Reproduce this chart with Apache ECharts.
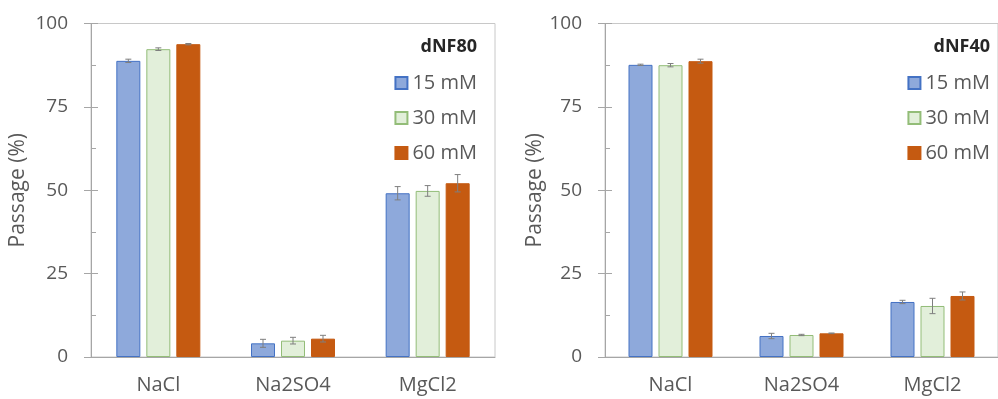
<!DOCTYPE html>
<html><head><meta charset="utf-8">
<script src="https://cdn.jsdelivr.net/npm/echarts@6/dist/echarts.min.js"></script>
<style>html,body{margin:0;padding:0;background:#fff}#c{width:998px;height:399px}</style>
</head><body><div id="c"></div>
<script>
const categories = ['NaCl', 'Na2SO4', 'MgCl2'];
const seriesNames = ['15 mM', '30 mM', '60 mM'];
const yTicks = [0, 25, 50, 75, 100];
// dNF80 (left)
const dNF80_15 = [88.8, 4.1, 49.1];
const dNF80_30 = [92.3, 4.9, 49.8];
const dNF80_60 = [93.8, 5.5, 52.1];
const dNF80_err15 = [0.5, 1.2, 2.0];
const dNF80_err30 = [0.4, 1.0, 1.6];
const dNF80_err60 = [0.2, 1.0, 2.6];
// dNF40 (right)
const dNF40_15 = [87.6, 6.3, 16.5];
const dNF40_30 = [87.5, 6.6, 15.3];
const dNF40_60 = [88.7, 7.1, 18.3];
const dNF40_err15 = [0.2, 0.8, 0.5];
const dNF40_err30 = [0.5, 0.2, 2.3];
const dNF40_err60 = [0.6, 0.1, 1.2];

const FONT = 'Open Sans';
const TXT = '#595959';
const fills = ['#8EA9DB', '#E2EFDA', '#C55A11'];
const borders = ['#4472C4', '#93BD78', '#C55A11'];
const BARW = 24, BARGAP = 0.25;

const chart = echarts.init(document.getElementById('c'));

function yAxes(gridIndex, nameGap) {
  return [{
    type: 'value', gridIndex, position: 'left', min: yTicks[0], max: yTicks[yTicks.length - 1], interval: yTicks[1] - yTicks[0],
    name: 'Passage (%)', nameLocation: 'middle', nameGap,
    nameTextStyle: { fontFamily: FONT, fontSize: 21, color: TXT },
    axisLine: { show: true, lineStyle: { color: '#A6A6A6' } },
    axisTick: { show: true, inside: false, length: 7, lineStyle: { color: '#A6A6A6' } },
    axisLabel: { margin: 23, fontFamily: FONT, fontSize: 19, color: TXT },
    splitLine: { show: false }
  }, {
    type: 'value', gridIndex, position: 'left', offset: 0, min: yTicks[0], max: yTicks[yTicks.length - 1], interval: yTicks[1] - yTicks[0],
    axisLine: { show: true, lineStyle: { color: '#A6A6A6' } },
    axisTick: { show: true, inside: true, length: 7, lineStyle: { color: '#A6A6A6' } },
    minorTick: { show: true, splitNumber: 2, length: 5, lineStyle: { color: '#A6A6A6' } },
    axisLabel: { show: false }, splitLine: { show: false }
  }];
}
function xAxis(gridIndex) {
  return {
    type: 'category', gridIndex, data: categories,
    axisLine: { show: true, lineStyle: { color: '#A6A6A6' } },
    axisTick: { show: false },
    axisLabel: { margin: 18, fontFamily: FONT, fontSize: 20, color: TXT }
  };
}
function barSeries(gi, name, idx, data) {
  return {
    type: 'bar', name, xAxisIndex: gi, yAxisIndex: gi * 2, data,
    barWidth: BARW, barGap: (BARGAP * 100) + '%',
    itemStyle: { color: fills[idx], borderColor: borders[idx], borderWidth: 1 }
  };
}
function errSeries(gi, idx, vals, errs) {
  return {
    type: 'custom', xAxisIndex: gi, yAxisIndex: gi * 2, z: 5, silent: true,
    data: vals.map((v, i) => [i, v, errs[i]]),
    renderItem: function (params, api) {
      const c = api.value(0), v = api.value(1), e = api.value(2);
      const off = (idx - 1) * BARW * (1 + BARGAP);
      const top = api.coord([c, v + e]);
      const bot = api.coord([c, v - e]);
      const x = top[0] + off;
      const cap = 3;
      const st = { stroke: '#7F7F7F', lineWidth: 1 };
      return { type: 'group', children: [
        { type: 'line', shape: { x1: x, y1: top[1], x2: x, y2: bot[1] }, style: st },
        { type: 'line', shape: { x1: x - cap, y1: top[1], x2: x + cap, y2: top[1] }, style: st },
        { type: 'line', shape: { x1: x - cap, y1: bot[1], x2: x + cap, y2: bot[1] }, style: st }
      ] };
    }
  };
}
function legend(right) {
  return {
    data: seriesNames, orient: 'vertical', right, top: 68, itemWidth: 12, itemHeight: 12,
    itemGap: 15, icon: 'rect', selectedMode: false,
    textStyle: { fontFamily: FONT, fontSize: 20, color: TXT, lineHeight: 20 }
  };
}

const left = [dNF80_15, dNF80_30, dNF80_60], leftErr = [dNF80_err15, dNF80_err30, dNF80_err60];
const right = [dNF40_15, dNF40_30, dNF40_60], rightErr = [dNF40_err15, dNF40_err30, dNF40_err60];
const series = [];
[left, right].forEach((set, gi) => set.forEach((d, i) => series.push(barSeries(gi, seriesNames[i], i, d))));
[[left, leftErr], [right, rightErr]].forEach(([set, errs], gi) => set.forEach((d, i) => series.push(errSeries(gi, i, d, errs[i]))));

chart.setOption({
  animation: false,
  title: [
    { text: 'dNF80', right: 516, top: 33, textStyle: { fontFamily: FONT, fontSize: 18, fontWeight: 'bold', color: '#262626' } },
    { text: 'dNF40', right: 3, top: 33, textStyle: { fontFamily: FONT, fontSize: 18, fontWeight: 'bold', color: '#262626' } }
  ],
  legend: [legend(516), legend(3)],
  grid: [
    { left: 91, top: 23.5, width: 404, height: 333.5, show: true, borderColor: '#C8C8C8', borderWidth: 1 },
    { left: 605, top: 23.5, width: 402, height: 333.5, show: true, borderColor: '#C8C8C8', borderWidth: 1 }
  ],
  xAxis: [xAxis(0), xAxis(1)],
  yAxis: [...yAxes(0, 62), ...yAxes(1, 59)],
  series
});
</script></body></html>
